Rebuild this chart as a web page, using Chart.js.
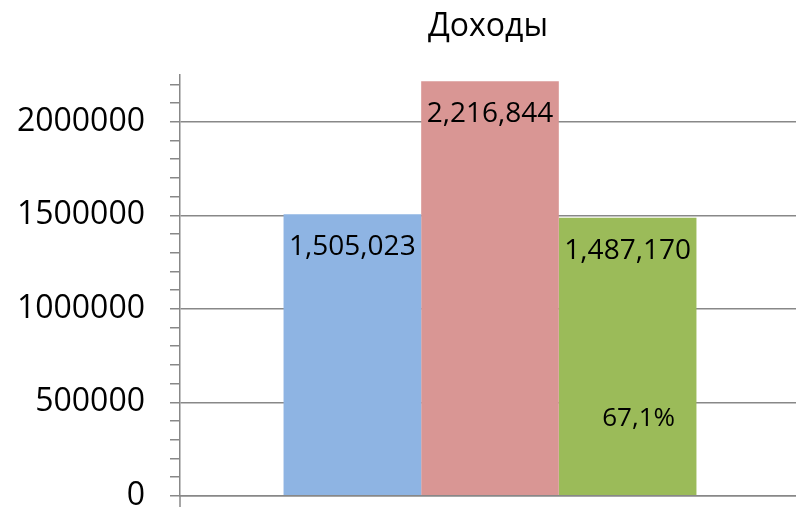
<!DOCTYPE html>
<html>
<head>
<meta charset="utf-8">
<script src="https://cdn.jsdelivr.net/npm/chart.js@4"></script>
<style>
html, body { margin: 0; padding: 0; background: #fff; overflow: hidden; }
#wrap { width: 800px; height: 540px; }
</style>
</head>
<body>
<div id="wrap"><canvas id="incomeChart" width="800" height="540"></canvas></div>
<script>
const chartTitle = 'Доходы';
const categories = [''];
const seriesNames = ['Ряд1', 'Ряд2', 'Ряд3'];
const seriesValues = [1505023, 2216844, 1487170];
const seriesColors = ['#8EB4E3', '#D99694', '#9BBB59'];
const percentLabels = [null, null, '67,1%'];
const yMax = 2250000;
const yMajorTicks = [0, 500000, 1000000, 1500000, 2000000];
const yMinorStep = 100000;

const FONT = '"Open Sans", sans-serif';
const gridGrey = '#888888';

const barLabels = {
  id: 'barLabels',
  afterDatasetsDraw(chart) {
    const c = chart.ctx;
    const a = chart.chartArea;
    c.save();
    // y axis line continues a little below the baseline
    c.strokeStyle = gridGrey;
    c.lineWidth = 1.5;
    c.beginPath();
    c.moveTo(a.left, a.bottom);
    c.lineTo(a.left, a.bottom + 14);
    c.stroke();

    c.fillStyle = '#000';
    c.textAlign = 'center';
    c.textBaseline = 'middle';
    chart.data.datasets.forEach((ds, i) => {
      const bar = chart.getDatasetMeta(i).data[0];
      c.font = '28px ' + FONT;
      c.fillText(ds.data[0].toLocaleString('en-US'), bar.x, bar.y + 33);
      if (percentLabels[i]) {
        c.font = '26px ' + FONT;
        const h = bar.base - bar.y;
        c.fillText(percentLabels[i], bar.x + 11, bar.base - h * 0.274);
      }
    });
    // title centred over plot area
    c.font = '32px ' + FONT;
    c.fillText(chartTitle, (a.left + a.right) / 2 - 2, 27);
    c.restore();
  }
};

const datasets = seriesNames.map((name, i) => ({
  label: name,
  data: [seriesValues[i]],
  backgroundColor: seriesColors[i],
  borderWidth: 0,
  categoryPercentage: 0.666,
  barPercentage: 1
}));

new Chart(document.getElementById('incomeChart'), {
  type: 'bar',
  data: { labels: categories, datasets: datasets },
  options: {
    responsive: false,
    animation: false,
    layout: { padding: { top: 75, right: 0, bottom: 0, left: 0 } },
    plugins: {
      legend: { display: false },
      title: { display: false },
      tooltip: { enabled: false }
    },
    scales: {
      x: {
        grid: { display: false, drawTicks: false },
        border: { display: true, color: gridGrey, width: 1.5 },
        ticks: { display: false }
      },
      y: {
        min: 0,
        max: yMax,
        afterFit(scale) { scale.width = 180; },
        afterBuildTicks(scale) {
          const t = [];
          for (let v = 0; v < yMax; v += yMinorStep) t.push({ value: v });
          scale.ticks = t;
        },
        border: { display: true, color: gridGrey, width: 1.5 },
        grid: {
          tickLength: 10,
          lineWidth: 1.5,
          color: ctx => (ctx.tick && yMajorTicks.includes(ctx.tick.value)) ? gridGrey : 'rgba(0,0,0,0)',
          tickColor: gridGrey
        },
        ticks: {
          padding: 25,
          color: '#000',
          font: { family: FONT, size: 32 },
          autoSkip: false,
          callback: v => (yMajorTicks.includes(v) ? String(v) : '')
        }
      }
    }
  },
  plugins: [barLabels]
});
</script>
</body>
</html>
